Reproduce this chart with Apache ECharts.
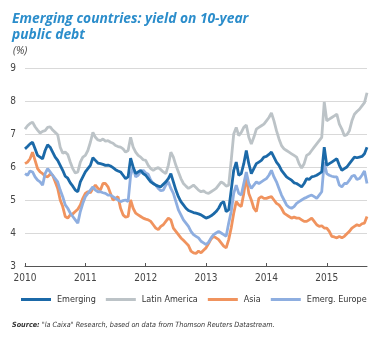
<!DOCTYPE html>
<html>
<head>
<meta charset="utf-8">
<script src="https://cdn.jsdelivr.net/npm/echarts@6/dist/echarts.min.js"></script>
<style>
html,body{margin:0;padding:0;background:#fff;}
#chart{width:387px;height:338px;}
</style>
</head>
<body>
<div id="chart"></div>
<script>
// Semi-monthly observations, starting Jan 2010 (step = 1/24 year)
var startYear = 2010;
var stepsPerYear = 24;
var yearTicks = [2010, 2011, 2012, 2013, 2014, 2015];
var seriesNames = ['Emerging', 'Latin America', 'Asia', 'Emerg. Europe'];

var emerging = [6.55,6.62,6.7,6.75,6.55,6.35,6.3,6.25,6.5,6.67,6.6,6.45,6.3,6.2,6.05,5.9,5.72,5.66,5.52,5.42,
5.3,5.25,5.55,5.7,5.85,5.95,6.05,6.28,6.2,6.12,6.1,6.08,6.05,6.06,6.03,5.98,5.92,5.88,5.85,5.75,
5.65,5.7,6.27,6.0,5.8,5.85,5.9,5.8,5.75,5.65,5.55,5.5,5.45,5.42,5.4,5.48,5.55,5.65,5.8,5.55,
5.3,5.1,4.95,4.85,4.75,4.68,4.65,4.62,4.6,4.58,4.55,4.5,4.45,4.48,4.52,4.58,4.65,4.75,4.9,4.95,
4.65,4.7,5.3,5.9,6.15,5.75,5.8,6.1,6.5,6.1,5.8,5.95,6.1,6.15,6.2,6.3,6.32,6.38,6.45,6.3,
6.15,6.05,5.9,5.8,5.7,5.65,5.6,5.52,5.5,5.45,5.4,5.5,5.65,5.62,5.7,5.72,5.75,5.8,5.85,6.6,
6.05,6.1,6.15,6.2,6.25,6.05,5.9,5.95,6.0,6.1,6.2,6.3,6.28,6.3,6.32,6.4,6.6];

var latinAmerica = [7.15,7.25,7.32,7.36,7.22,7.12,7.03,7.08,7.1,7.2,7.22,7.12,7.05,6.98,6.6,6.42,6.45,6.38,6.15,5.95,
5.82,5.85,6.15,6.3,6.35,6.5,6.75,7.05,6.9,6.82,6.8,6.85,6.78,6.8,6.75,6.72,6.65,6.62,6.6,6.55,
6.45,6.5,6.9,6.6,6.45,6.35,6.3,6.22,6.2,6.05,5.95,5.9,5.95,5.98,5.92,5.85,5.8,6.05,6.45,6.3,
6.05,5.85,5.65,5.5,5.42,5.35,5.4,5.45,5.38,5.3,5.25,5.28,5.22,5.2,5.25,5.3,5.35,5.45,5.55,5.5,
5.42,5.45,6.2,7.0,7.2,6.95,7.05,7.2,7.27,6.9,6.7,6.9,7.15,7.2,7.25,7.3,7.4,7.5,7.64,7.4,
7.1,6.85,6.65,6.55,6.5,6.45,6.4,6.35,6.3,6.1,5.97,6.1,6.35,6.4,6.5,6.6,6.7,6.8,6.9,7.97,
7.4,7.45,7.5,7.55,7.6,7.3,7.15,6.95,6.98,7.1,7.4,7.6,7.68,7.75,7.85,7.95,8.25];

var asia = [6.1,6.15,6.25,6.45,6.2,5.95,5.85,5.8,5.72,5.7,5.78,5.75,5.55,5.35,5.0,4.8,4.5,4.45,4.55,4.58,
4.65,4.72,4.85,5.05,5.2,5.25,5.22,5.35,5.45,5.35,5.3,5.5,5.5,5.4,5.2,5.0,5.05,5.1,4.75,4.55,
4.48,4.5,5.0,4.75,4.6,4.55,4.5,4.45,4.42,4.4,4.35,4.25,4.15,4.1,4.2,4.25,4.35,4.45,4.4,4.15,
4.05,3.95,3.85,3.78,3.7,3.62,3.45,3.4,3.38,3.45,3.4,3.48,3.55,3.68,3.82,3.9,3.85,3.8,3.7,3.6,
3.55,3.8,4.15,4.6,4.95,4.85,4.8,5.2,5.7,5.2,5.0,4.75,4.65,5.05,5.1,5.05,5.05,5.08,5.1,5.0,
4.9,4.85,4.75,4.6,4.55,4.5,4.45,4.48,4.45,4.45,4.4,4.35,4.35,4.4,4.45,4.35,4.25,4.2,4.22,4.15,
4.15,4.05,3.9,3.88,3.85,3.9,3.85,3.9,3.98,4.05,4.15,4.2,4.25,4.22,4.28,4.3,4.5];

var emergEurope = [5.8,5.75,5.88,5.85,5.7,5.6,5.55,5.45,5.8,5.95,5.85,5.75,5.65,5.55,5.3,5.1,4.85,4.75,4.6,4.5,
4.4,4.3,4.65,4.9,5.1,5.2,5.3,5.4,5.3,5.25,5.25,5.22,5.2,5.15,5.15,5.1,5.05,5.0,4.95,4.98,
5.0,4.95,5.75,6.0,5.7,5.75,5.85,5.9,5.82,5.78,5.6,5.5,5.45,5.35,5.28,5.3,5.45,5.55,5.35,5.2,
4.95,4.7,4.55,4.4,4.3,4.2,4.05,3.95,3.9,3.85,3.75,3.7,3.65,3.72,3.85,3.95,4.0,4.05,4.0,3.95,
3.9,4.3,4.65,5.2,5.45,5.2,5.15,5.5,5.85,5.5,5.35,5.45,5.55,5.5,5.55,5.6,5.65,5.75,5.9,5.7,
5.55,5.35,5.15,5.0,4.85,4.78,4.75,4.8,4.9,4.95,5.0,5.05,5.08,5.12,5.15,5.1,5.05,5.15,5.25,6.15,
5.8,5.75,5.72,5.7,5.7,5.45,5.4,5.5,5.5,5.6,5.72,5.75,5.62,5.65,5.75,5.88,5.5];

var colors = ['#1b69a8', '#bcc3c7', '#f0935e', '#8eaee0'];

function toPairs(vals) {
  return vals.map(function (v, i) { return [startYear + i / stepsPerYear, v]; });
}
var lastX = startYear + (emerging.length - 1) / stepsPerYear;

var chart = echarts.init(document.getElementById('chart'), null, {renderer: 'canvas'});
var fontFam = '"Open Sans", "Noto Sans", sans-serif';
var condFam = '"DejaVu Sans Condensed", "Open Sans", sans-serif';

var allSeries = [emerging, latinAmerica, asia, emergEurope].map(function (vals, k) {
  return {
    name: seriesNames[k],
    type: 'line',
    data: toPairs(vals),
    showSymbol: false,
    symbol: 'none',
    smooth: false,
    z: k === 0 ? 5 : (k === 1 ? 2 : (k === 2 ? 3 : 4)),
    lineStyle: {width: 2.8, color: colors[k]},
    itemStyle: {color: colors[k]},
    emphasis: {disabled: true},
    animation: false
  };
});

chart.setOption({
  animation: false,
  color: colors,
  title: [
    {
      text: 'Emerging countries: yield on 10-year\npublic debt',
      left: 7, top: 6,
      textStyle: {fontFamily: fontFam, fontStyle: 'italic', fontWeight: 'bold', fontSize: 13.8, color: '#2b8dcb', lineHeight: 16}
    },
    {
      text: '(%)',
      left: 8, top: 41,
      textStyle: {fontFamily: fontFam, fontStyle: 'italic', fontWeight: 'normal', fontSize: 10.5, color: '#444'}
    },
    {
      text: '{b|Source:} "la Caixa" Research, based on data from Thomson Reuters Datastream.',
      left: 7, top: 317,
      textStyle: {
        fontFamily: condFam, fontStyle: 'italic', fontWeight: 'normal', fontSize: 7.2, color: '#333',
        rich: {b: {fontFamily: condFam, fontStyle: 'italic', fontWeight: 'bold', fontSize: 7.2, color: '#333'}}
      }
    }
  ],
  legend: {
    data: seriesNames,
    top: 295,
    left: 21,
    padding: 0,
    itemWidth: 30,
    itemHeight: 3,
    itemGap: 10,
    icon: 'rect',
    textStyle: {fontFamily: condFam, fontSize: 9, color: '#333', padding: [0, 0, 0, 1]}
  },
  grid: {left: 25, right: 20, top: 68, bottom: 72, containLabel: false},
  xAxis: {
    type: 'value',
    min: startYear,
    max: lastX,
    interval: 1,
    axisLine: {show: true, lineStyle: {color: '#555', width: 1}},
    axisTick: {show: true, inside: true, length: 3, lineStyle: {color: '#555'}},
    splitLine: {show: false},
    axisLabel: {
      showMaxLabel: false,
      color: '#444', fontSize: 10, fontFamily: condFam, margin: 7,
      formatter: function (v) { return yearTicks.indexOf(Math.round(v)) >= 0 && Math.abs(v - Math.round(v)) < 1e-6 ? String(Math.round(v)) : ''; }
    }
  },
  yAxis: {
    type: 'value',
    min: 3, max: 9, interval: 1,
    axisLine: {show: false},
    axisTick: {show: false},
    splitLine: {show: true, lineStyle: {color: '#d9d9d9', width: 1}},
    axisLabel: {color: '#444', fontSize: 10, fontFamily: condFam, margin: 9}
  },
  series: allSeries
});
</script>
</body>
</html>
